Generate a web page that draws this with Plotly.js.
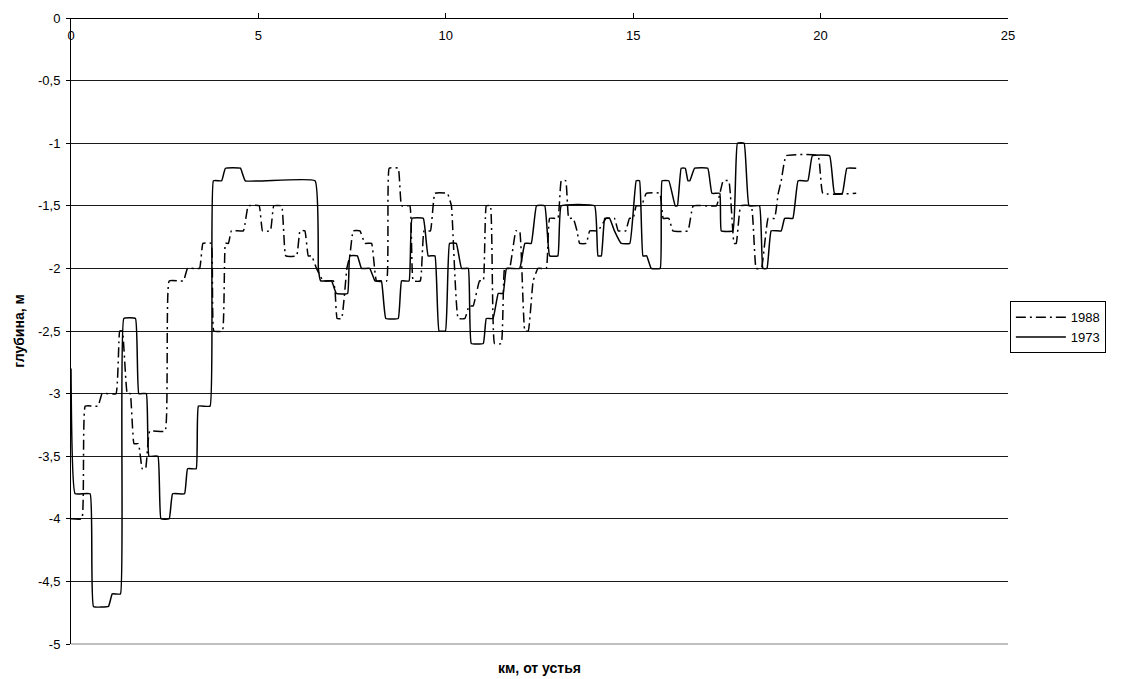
<!DOCTYPE html>
<html>
<head>
<meta charset="utf-8">
<script src="https://cdn.plot.ly/plotly-3.0.1.min.js"></script>
<style>html,body{margin:0;padding:0;background:#fff;}#chart{width:1122px;height:679px;}</style>
</head>
<body>
<div id="chart"></div>
<script>
// 1988 (dash-dot)
const km1988 = [0,0.29,0.38,0.72,0.83,1.2,1.3,1.37,1.5,1.58,1.68,1.8,1.9,1.99,2.1,2.51,2.62,3.0,3.11,3.43,3.52,3.74,3.81,4.04,4.12,4.2,4.28,4.6,4.73,5.02,5.11,5.32,5.41,5.62,5.73,6.02,6.11,6.24,6.33,6.42,6.55,6.73,7.0,7.05,7.1,7.22,7.36,7.44,7.53,7.71,7.84,8.02,8.15,8.42,8.49,8.73,8.82,9.04,9.13,9.32,9.42,9.59,9.71,10.04,10.15,10.33,10.51,10.62,10.73,10.9,11.0,11.08,11.19,11.3,11.48,11.57,11.7,11.87,11.97,12.11,12.2,12.33,12.46,12.68,12.77,12.99,13.08,13.2,13.28,13.4,13.5,13.57,13.75,13.84,14.06,14.28,14.5,14.6,14.8,14.9,15.0,15.08,15.22,15.35,15.71,15.8,15.95,16.06,16.46,16.6,17.22,17.4,17.55,17.69,17.75,17.87,18.15,18.28,18.42,18.6,18.77,18.87,18.95,19.08,19.93,20.06,20.95];
const depth1988 = [-4.0,-4.0,-3.1,-3.1,-3.0,-3.0,-2.5,-2.5,-3.0,-3.0,-3.4,-3.4,-3.6,-3.6,-3.3,-3.3,-2.1,-2.1,-2.0,-2.0,-1.8,-1.8,-2.5,-2.5,-1.8,-1.8,-1.7,-1.7,-1.5,-1.5,-1.7,-1.7,-1.5,-1.5,-1.9,-1.9,-1.7,-1.7,-1.9,-1.9,-2.0,-2.1,-2.1,-2.2,-2.4,-2.4,-2.0,-1.9,-1.7,-1.7,-1.8,-1.8,-2.1,-2.1,-1.2,-1.2,-1.5,-1.5,-2.1,-2.1,-1.7,-1.7,-1.4,-1.4,-1.5,-2.4,-2.4,-2.3,-2.3,-2.1,-2.1,-1.5,-1.5,-2.6,-2.6,-2.0,-2.0,-1.7,-1.7,-2.5,-2.5,-2.1,-2.0,-2.0,-1.6,-1.6,-1.3,-1.3,-1.6,-1.6,-1.7,-1.8,-1.8,-1.7,-1.7,-1.6,-1.6,-1.7,-1.7,-1.6,-1.6,-1.5,-1.5,-1.4,-1.4,-1.6,-1.6,-1.7,-1.7,-1.5,-1.5,-1.3,-1.3,-1.8,-1.8,-1.5,-1.5,-2.0,-2.0,-1.6,-1.6,-1.4,-1.3,-1.1,-1.1,-1.4,-1.4];

// 1973 (solid)
const km1973 = [0,0.11,0.51,0.6,1.0,1.1,1.32,1.41,1.72,1.81,2.01,2.08,2.32,2.4,2.62,2.71,3.03,3.11,3.34,3.4,3.71,3.8,4.02,4.12,4.52,4.65,6.51,6.6,6.66,6.95,7.08,7.38,7.44,7.64,7.75,7.97,8.11,8.28,8.4,8.73,8.82,9.02,9.1,9.4,9.53,9.71,9.82,9.99,10.1,10.28,10.42,10.6,10.68,11.0,11.08,11.26,11.4,11.53,11.62,11.97,12.11,12.28,12.42,12.64,12.77,12.99,13.08,13.97,14.06,14.15,14.24,14.37,14.5,14.68,14.91,15.08,15.17,15.26,15.36,15.48,15.72,15.77,15.95,16.12,16.18,16.28,16.39,16.46,16.51,16.64,16.99,17.1,17.31,17.35,17.66,17.78,17.96,18.09,18.37,18.46,18.57,18.68,18.95,19.04,19.26,19.4,19.66,19.78,20.24,20.37,20.58,20.7,20.95];
const depth1973 = [-2.8,-3.8,-3.8,-4.7,-4.7,-4.6,-4.6,-2.4,-2.4,-3.0,-3.0,-3.5,-3.5,-4.0,-4.0,-3.8,-3.8,-3.6,-3.6,-3.1,-3.1,-1.3,-1.3,-1.2,-1.2,-1.3,-1.3,-2.0,-2.1,-2.1,-2.2,-2.2,-1.9,-1.9,-2.0,-2.0,-2.1,-2.1,-2.4,-2.4,-2.1,-2.1,-1.6,-1.6,-1.9,-1.9,-2.5,-2.5,-1.8,-1.8,-2.0,-2.0,-2.6,-2.6,-2.4,-2.4,-2.2,-2.2,-2.0,-2.0,-1.8,-1.8,-1.5,-1.5,-1.9,-1.9,-1.5,-1.5,-1.9,-1.9,-1.6,-1.6,-1.7,-1.8,-1.8,-1.3,-1.3,-1.9,-1.9,-2.0,-2.0,-1.3,-1.3,-1.5,-1.5,-1.2,-1.2,-1.3,-1.3,-1.2,-1.2,-1.4,-1.4,-1.7,-1.7,-1.0,-1.0,-1.5,-1.5,-2.0,-2.0,-1.7,-1.7,-1.6,-1.6,-1.3,-1.3,-1.1,-1.1,-1.4,-1.4,-1.2,-1.2];

const xTickVals = [0,5,10,15,20,25];
const xTickText = ['0','5','10','15','20','25'];
const yTickVals = [0,-0.5,-1,-1.5,-2,-2.5,-3,-3.5,-4,-4.5,-5];
const yTickText = ['0','-0,5','-1','-1,5','-2','-2,5','-3','-3,5','-4','-4,5','-5'];

const FONT = 'Liberation Sans, Arial, sans-serif';

const traces = [
  {x: km1988, y: depth1988, name: '1988', type: 'scatter', mode: 'lines',
   line: {color: '#000', width: 1.5, dash: '10px,4px,2px,4px', shape: 'spline', smoothing: 0.3}},
  {x: km1973, y: depth1973, name: '1973', type: 'scatter', mode: 'lines',
   line: {color: '#000', width: 1.5, shape: 'spline', smoothing: 0.3}}
];

const layout = {
  width: 1122, height: 679,
  margin: {l: 71, r: 114, t: 18, b: 35, pad: 0},
  paper_bgcolor: '#fff', plot_bgcolor: '#fff',
  font: {family: FONT, size: 13, color: '#000'},
  showlegend: true,
  xaxis: {
    range: [0, 25], tickvals: xTickVals, ticktext: xTickText,
    anchor: 'free', position: 1, side: 'bottom',
    ticks: 'inside', ticklen: 5, tickcolor: '#000', tickwidth: 1,
    ticklabelstandoff: 5,
    showline: true, linecolor: '#000', linewidth: 1,
    showgrid: false, zeroline: false,
    tickfont: {family: FONT, size: 13, color: '#000'}
  },
  yaxis: {
    range: [-5, 0], tickvals: yTickVals, ticktext: yTickText,
    ticks: 'outside', ticklen: 4, tickcolor: '#000',
    ticklabelstandoff: 3,
    showline: true, linecolor: '#000', linewidth: 1,
    showgrid: true, gridcolor: '#1a1a1a', gridwidth: 1,
    zeroline: false,
    tickfont: {family: FONT, size: 13, color: '#000'},
    title: {text: 'глубина, м', font: {family: FONT, size: 14, color: '#000', weight: 'bold'}, standoff: 10}
  },
  legend: {
    x: 1.002, xanchor: 'left', y: 0.506, yanchor: 'middle',
    bordercolor: '#000', borderwidth: 1, bgcolor: '#fff',
    font: {family: FONT, size: 13, color: '#000'},
    itemwidth: 50, tracegroupgap: 0
  },
  shapes: [{
    type: 'line', xref: 'paper', yref: 'paper', x0: 0, x1: 1, y0: 0, y1: 0,
    line: {color: '#808080', width: 1}
  }],
  annotations: [{
    text: '<b>км, от устья</b>', xref: 'paper', yref: 'paper',
    x: 0.5, y: -0.038, xanchor: 'center', yanchor: 'middle', showarrow: false,
    font: {family: FONT, size: 14, color: '#000'}
  }]
};

Plotly.newPlot('chart', traces, layout, {displayModeBar: false, staticPlot: true});
</script>
</body>
</html>
